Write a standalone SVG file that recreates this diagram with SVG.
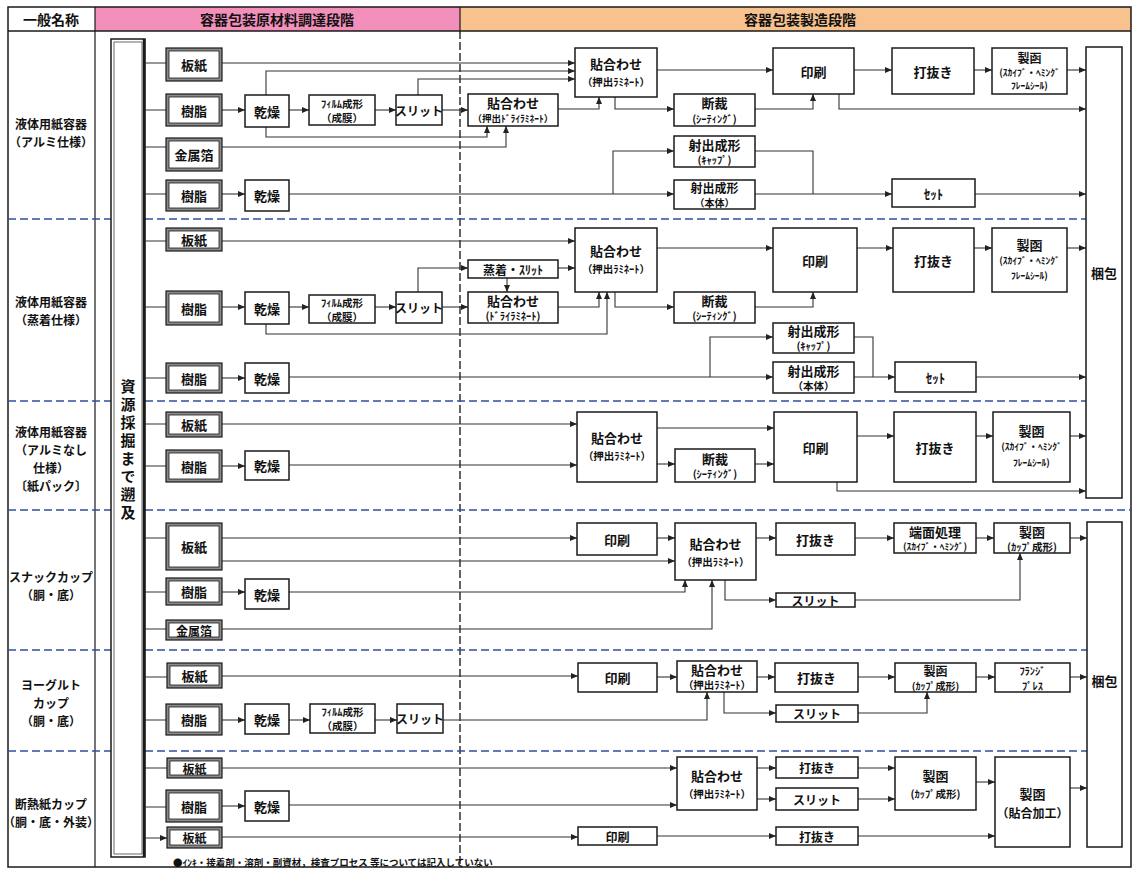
<svg xmlns="http://www.w3.org/2000/svg" width="1136" height="871" viewBox="0 0 1136 871">
<defs>
<marker id="a" markerUnits="userSpaceOnUse" markerWidth="7" markerHeight="6" refX="7" refY="3" orient="auto"><path d="M0,0 L7,3 L0,6 z" fill="#222"/></marker>
<style>
.box{fill:#fff;stroke:#1a1a1a;stroke-width:1.5}
.mo{fill:#8a8a8a;stroke:#1a1a1a;stroke-width:1.2}
.mi{fill:#fff;stroke:#1a1a1a;stroke-width:0.8}
.t{font-family:"Noto Sans CJK JP","Noto Sans",sans-serif;font-weight:700;font-size:13px;text-anchor:middle;dominant-baseline:central;fill:#111}
.s{font-size:10.5px}
.xs{font-size:9.5px}
.h{font-size:14px}
.l{font-size:12px}
.c{fill:none;stroke:#333;stroke-width:1.1;marker-end:url(#a)}
.n{marker-end:none}
.sep{stroke:#2f4f9f;stroke-width:1.6;stroke-dasharray:8 4;fill:none}
</style>
</defs>
<rect x="0" y="0" width="1136" height="871" fill="#fff"/>
<g id="frame">
<rect x="95" y="7" width="365" height="24" fill="#f28fba"/>
<rect x="460" y="7" width="671" height="24" fill="#f8c28e"/>
<rect x="8" y="7" width="1123" height="860" fill="none" stroke="#1a1a1a" stroke-width="1.5"/>
<line x1="8" y1="31" x2="1131" y2="31" stroke="#1a1a1a" stroke-width="1.5"/>
<line x1="95" y1="7" x2="95" y2="867" stroke="#1a1a1a" stroke-width="1.2"/>
<line x1="460" y1="7" x2="460" y2="31" stroke="#1a1a1a" stroke-width="1.2"/>
<line x1="460" y1="31" x2="460" y2="867" stroke="#111" stroke-width="1.3" stroke-dasharray="8 3"/>
<text class="t h" x="51" y="19">一般名称</text>
<text class="t h" x="277" y="19">容器包装原材料調達段階</text>
<text class="t h" x="800" y="19">容器包装製造段階</text>
</g>
<g id="separators">
<path class="sep" d="M8,219 H111 M145,219 H1086"/>
<path class="sep" d="M8,401 H111 M145,401 H1086"/>
<path class="sep" d="M8,510 H111 M145,510 H1131"/>
<path class="sep" d="M8,650 H111 M145,650 H1087"/>
<path class="sep" d="M8,751 H111 M145,751 H1087"/>
</g>
<g id="row-labels">
<text class="t l" x="51" y="123">液体用紙容器</text>
<text class="t l" x="51" y="141">（アルミ仕様）</text>
<text class="t l" x="51" y="301">液体用紙容器</text>
<text class="t l" x="51" y="319">（蒸着仕様）</text>
<text class="t l" x="51" y="431">液体用紙容器</text>
<text class="t l" x="51" y="449">（アルミなし</text>
<text class="t l" x="51" y="467">仕様）</text>
<text class="t l" x="51" y="485">〔紙パック〕</text>
<text class="t l" x="51" y="576">スナックカップ</text>
<text class="t l" x="51" y="594">（胴・底）</text>
<text class="t l" x="51" y="684">ヨーグルト</text>
<text class="t l" x="51" y="702">カップ</text>
<text class="t l" x="51" y="720">（胴・底）</text>
<text class="t l" x="51" y="803">断熱紙カップ</text>
<text class="t l" x="51" y="821">（胴・底・外装）</text>
</g>
<g id="source">
<rect x="111" y="39" width="34" height="818" fill="#fff" stroke="#1a1a1a" stroke-width="1.5"/>
<rect x="114" y="42" width="28" height="812" fill="none" stroke="#444" stroke-width="0.8"/>
<line x1="144" y1="39" x2="144" y2="857" stroke="#1a1a1a" stroke-width="2.5"/>
<text class="t" x="128" y="451" style="font-size:15px;writing-mode:vertical-rl;letter-spacing:3px">資源採掘まで遡及</text>
</g>
<g id="connectors">
<path class="c" d="M145,63 H166 M145,110 H166 M145,147 H166 M145,194 H166 M145,241 H166 M145,307 H166 M145,378 H166 M145,424 H166 M145,466 H166 M145,538 H166 M145,592 H166 M145,629 H166 M145,677 H167 M145,720 H166 M145,768 H167 M145,807 H166 M145,838 H167"/>
<path class="c" d="M222,63 H575"/>
<path class="c" d="M266,95 V71 H575"/>
<path class="c" d="M418,95 V79 H575"/>
<path class="c" d="M222,110 H245"/>
<path class="c" d="M289,110 H309"/>
<path class="c" d="M375,110 H396"/>
<path class="c" d="M442,110 H468"/>
<path class="c" d="M266,127 V137 H487 V126"/>
<path class="c" d="M222,147 H506 V126"/>
<path class="c" d="M558,109 H599 V97"/>
<path class="c" d="M615,97 V109 H674"/>
<path class="c" d="M755,109 H813 V94"/>
<path class="c" d="M657,70 H773"/>
<path class="c" d="M854,70 H892"/>
<path class="c" d="M974,70 H992"/>
<path class="c" d="M1067,70 H1086"/>
<path class="c" d="M839,94 V109 H1086"/>
<path class="c" d="M222,194 H245"/>
<path class="c" d="M289,194 H674"/>
<path class="c" d="M613,194 V151 H674"/>
<path class="c n" d="M755,151 H813 V194"/>
<path class="c" d="M755,194 H892"/>
<path class="c" d="M975,194 H1086"/>
<path class="c" d="M222,241 H575"/>
<path class="c" d="M222,307 H245"/>
<path class="c" d="M289,307 H309"/>
<path class="c" d="M375,307 H396"/>
<path class="c" d="M418,292 V268 H468"/>
<path class="c" d="M442,307 H468"/>
<path class="c" d="M558,268 H575"/>
<path class="c" d="M507,278 V292"/>
<path class="c" d="M558,307 H599 V292"/>
<path class="c" d="M266,324 V334 H607 V292"/>
<path class="c" d="M615,292 V307 H674"/>
<path class="c" d="M755,307 H813 V292"/>
<path class="c" d="M657,248 H773"/>
<path class="c" d="M857,248 H893"/>
<path class="c" d="M974,248 H992"/>
<path class="c" d="M1067,248 H1086"/>
<path class="c" d="M222,378 H245"/>
<path class="c" d="M289,377 H773"/>
<path class="c" d="M710,377 V337 H773"/>
<path class="c n" d="M854,337 H873 V377"/>
<path class="c" d="M854,377 H895"/>
<path class="c" d="M976,377 H1086"/>
<path class="c" d="M222,424 H577"/>
<path class="c" d="M222,466 H245"/>
<path class="c" d="M289,465 H577"/>
<path class="c" d="M657,428 H774"/>
<path class="c" d="M657,464 H675"/>
<path class="c" d="M755,464 H774"/>
<path class="c" d="M857,436 H894"/>
<path class="c" d="M976,436 H993"/>
<path class="c" d="M1070,436 H1086"/>
<path class="c" d="M837,482 V491 H1086"/>
<path class="c" d="M222,538 H577"/>
<path class="c" d="M222,561 H675"/>
<path class="c" d="M222,592 H245"/>
<path class="c" d="M289,592 H685 V580"/>
<path class="c" d="M222,629 H712 V580"/>
<path class="c" d="M657,538 H675"/>
<path class="c" d="M756,538 H776"/>
<path class="c" d="M855,538 H894"/>
<path class="c" d="M976,538 H994"/>
<path class="c" d="M1070,538 H1087"/>
<path class="c" d="M725,580 V600 H776"/>
<path class="c" d="M855,600 H1020 V553"/>
<path class="c" d="M222,676 H578"/>
<path class="c" d="M222,720 H245"/>
<path class="c" d="M289,720 H310"/>
<path class="c" d="M375,720 H397"/>
<path class="c" d="M443,720 H707 V692"/>
<path class="c" d="M657,677 H677"/>
<path class="c" d="M757,677 H775"/>
<path class="c" d="M858,677 H895"/>
<path class="c" d="M976,677 H995"/>
<path class="c" d="M1070,677 H1087"/>
<path class="c" d="M724,692 V713 H776"/>
<path class="c" d="M858,713 H927 V692"/>
<path class="c" d="M222,768 H677"/>
<path class="c" d="M222,806 H245"/>
<path class="c" d="M289,805 H677"/>
<path class="c" d="M757,768 H776"/>
<path class="c" d="M757,799 H776"/>
<path class="c" d="M858,768 H895"/>
<path class="c" d="M858,799 H895"/>
<path class="c" d="M976,782 H995"/>
<path class="c" d="M222,837 H578"/>
<path class="c" d="M657,836 H776"/>
<path class="c" d="M858,836 H995"/>
<path class="c" d="M1070,788 H1087"/>
</g>
<g id="r1-itagami"><rect class="mo" x="166" y="48" width="56" height="33"/><rect class="mi" x="169" y="51" width="50" height="27"/><text class="t" x="194" y="64.5">板紙</text></g>
<g id="r1-jushi1"><rect class="mo" x="166" y="94" width="56" height="32"/><rect class="mi" x="169" y="97" width="50" height="26"/><text class="t" x="194" y="110">樹脂</text></g>
<g id="r1-kinzoku"><rect class="mo" x="166" y="138" width="56" height="33"/><rect class="mi" x="169" y="141" width="50" height="27"/><text class="t" x="194" y="154.5">金属箔</text></g>
<g id="r1-jushi2"><rect class="mo" x="166" y="180" width="56" height="31"/><rect class="mi" x="169" y="183" width="50" height="25"/><text class="t" x="194" y="195.5">樹脂</text></g>
<g id="r1-kanso1"><rect class="box" x="245" y="95" width="44" height="32"/><text class="t" x="267" y="111">乾燥</text></g>
<g id="r1-film"><rect class="box" x="309" y="95" width="66" height="30"/><text class="t s" x="342" y="103.5">ﾌｨﾙﾑ成形</text><text class="t s" x="342" y="117.5">（成膜）</text></g>
<g id="r1-slit"><rect class="box" x="396" y="95" width="46" height="30"/><text class="t" x="419" y="110" style="font-size:12px">スリット</text></g>
<g id="r1-kanso2"><rect class="box" x="245" y="180" width="44" height="31"/><text class="t" x="267" y="195.5">乾燥</text></g>
<g id="r1-dry"><rect class="box" x="468" y="94" width="90" height="32"/><text class="t" x="513" y="102.5">貼合わせ</text><text class="t xs" x="513" y="118">（押出ﾄﾞﾗｲﾗﾐﾈｰﾄ）</text></g>
<g id="r1-lam"><rect class="box" x="575" y="48" width="82" height="49"/><text class="t" x="616" y="63">貼合わせ</text><text class="t s" x="616" y="81">（押出ﾗﾐﾈｰﾄ）</text></g>
<g id="r1-cut"><rect class="box" x="674" y="94" width="81" height="32"/><text class="t" x="714.5" y="102.5">断裁</text><text class="t s" x="714.5" y="118">(ｼｰﾃｨﾝｸﾞ)</text></g>
<g id="r1-print"><rect class="box" x="773" y="48" width="81" height="46"/><text class="t" x="813.5" y="71">印刷</text></g>
<g id="r1-punch"><rect class="box" x="892" y="48" width="82" height="46"/><text class="t" x="933" y="71">打抜き</text></g>
<g id="r1-seikan"><rect class="box" x="992" y="48" width="75" height="46"/><text class="t" x="1029.5" y="57" style="font-size:12px">製函</text><text class="t xs" x="1029.5" y="72">(ｽｶｲﾌﾞ・ﾍﾐﾝｸﾞ</text><text class="t xs" x="1029.5" y="85">ﾌﾚｰﾑｼｰﾙ)</text></g>
<g id="r1-cap"><rect class="box" x="674" y="136" width="81" height="31"/><text class="t" x="714.5" y="144.5">射出成形</text><text class="t s" x="714.5" y="159.5">(ｷｬｯﾌﾟ)</text></g>
<g id="r1-body"><rect class="box" x="674" y="180" width="81" height="29"/><text class="t" x="714.5" y="187" style="font-size:12px">射出成形</text><text class="t" x="714.5" y="202.5" style="font-size:10px">（本体）</text></g>
<g id="r1-set"><rect class="box" x="892" y="179" width="83" height="28"/><text class="t" x="933.5" y="193">ｾｯﾄ</text></g>
<g id="r2-itagami"><rect class="mo" x="166" y="228" width="56" height="23"/><rect class="mi" x="169" y="231" width="50" height="17"/><text class="t" x="194" y="239.5">板紙</text></g>
<g id="r2-jushi1"><rect class="mo" x="166" y="291" width="56" height="34"/><rect class="mi" x="169" y="294" width="50" height="28"/><text class="t" x="194" y="308">樹脂</text></g>
<g id="r2-jushi2"><rect class="mo" x="166" y="363" width="56" height="30"/><rect class="mi" x="169" y="366" width="50" height="24"/><text class="t" x="194" y="378">樹脂</text></g>
<g id="r2-kanso1"><rect class="box" x="245" y="292" width="44" height="32"/><text class="t" x="267" y="308">乾燥</text></g>
<g id="r2-film"><rect class="box" x="309" y="295" width="66" height="28"/><text class="t s" x="342" y="302.5">ﾌｨﾙﾑ成形</text><text class="t s" x="342" y="316">（成膜）</text></g>
<g id="r2-slit"><rect class="box" x="396" y="292" width="46" height="31"/><text class="t" x="419" y="307.5" style="font-size:12px">スリット</text></g>
<g id="r2-kanso2"><rect class="box" x="245" y="363" width="44" height="30"/><text class="t" x="267" y="378">乾燥</text></g>
<g id="r2-joch"><rect class="box" x="468" y="260" width="90" height="18"/><text class="t" x="513" y="269" style="font-size:12px">蒸着・ｽﾘｯﾄ</text></g>
<g id="r2-dry"><rect class="box" x="468" y="292" width="90" height="31"/><text class="t" x="513" y="300.5">貼合わせ</text><text class="t s" x="513" y="315.5">(ﾄﾞﾗｲﾗﾐﾈｰﾄ)</text></g>
<g id="r2-lam"><rect class="box" x="575" y="228" width="82" height="64"/><text class="t" x="616" y="250">貼合わせ</text><text class="t s" x="616" y="268">（押出ﾗﾐﾈｰﾄ）</text></g>
<g id="r2-cut"><rect class="box" x="674" y="292" width="81" height="31"/><text class="t" x="714.5" y="300.5">断裁</text><text class="t s" x="714.5" y="315.5">(ｼｰﾃｨﾝｸﾞ)</text></g>
<g id="r2-print"><rect class="box" x="773" y="228" width="84" height="64"/><text class="t" x="815" y="260">印刷</text></g>
<g id="r2-punch"><rect class="box" x="893" y="228" width="81" height="64"/><text class="t" x="933.5" y="260">打抜き</text></g>
<g id="r2-seikan"><rect class="box" x="992" y="228" width="75" height="64"/><text class="t" x="1029.5" y="244">製函</text><text class="t xs" x="1029.5" y="260">(ｽｶｲﾌﾞ・ﾍﾐﾝｸﾞ</text><text class="t xs" x="1029.5" y="275">ﾌﾚｰﾑｼｰﾙ)</text></g>
<g id="r2-cap"><rect class="box" x="773" y="323" width="81" height="30"/><text class="t" x="813.5" y="330.5">射出成形</text><text class="t s" x="813.5" y="345.5">(ｷｬｯﾌﾟ)</text></g>
<g id="r2-body"><rect class="box" x="773" y="362" width="81" height="31"/><text class="t" x="813.5" y="370">射出成形</text><text class="t s" x="813.5" y="385">（本体）</text></g>
<g id="r2-set"><rect class="box" x="895" y="362" width="81" height="30"/><text class="t" x="935.5" y="377">ｾｯﾄ</text></g>
<g id="r3-itagami"><rect class="mo" x="166" y="412" width="56" height="25"/><rect class="mi" x="169" y="415" width="50" height="19"/><text class="t" x="194" y="424.5">板紙</text></g>
<g id="r3-jushi"><rect class="mo" x="166" y="450" width="56" height="32"/><rect class="mi" x="169" y="453" width="50" height="26"/><text class="t" x="194" y="466">樹脂</text></g>
<g id="r3-kanso"><rect class="box" x="245" y="451" width="44" height="29"/><text class="t" x="267" y="465.5">乾燥</text></g>
<g id="r3-lam"><rect class="box" x="577" y="412" width="80" height="70"/><text class="t" x="617" y="437">貼合わせ</text><text class="t s" x="617" y="455">（押出ﾗﾐﾈｰﾄ）</text></g>
<g id="r3-cut"><rect class="box" x="675" y="449" width="80" height="33"/><text class="t" x="715" y="458">断裁</text><text class="t s" x="715" y="473.5">(ｼｰﾃｨﾝｸﾞ)</text></g>
<g id="r3-print"><rect class="box" x="774" y="412" width="83" height="70"/><text class="t" x="815.5" y="447">印刷</text></g>
<g id="r3-punch"><rect class="box" x="894" y="412" width="82" height="70"/><text class="t" x="935" y="447">打抜き</text></g>
<g id="r3-seikan"><rect class="box" x="993" y="412" width="77" height="70"/><text class="t" x="1031.5" y="430">製函</text><text class="t xs" x="1031.5" y="446">(ｽｶｲﾌﾞ・ﾍﾐﾝｸﾞ</text><text class="t xs" x="1031.5" y="462">ﾌﾚｰﾑｼｰﾙ)</text></g>
<g id="konpo1"><rect class="box" x="1086" y="47" width="36" height="451"/><text class="t" x="1104" y="272">梱包</text></g>
<g id="r4-itagami"><rect class="mo" x="166" y="523" width="56" height="47"/><rect class="mi" x="169" y="526" width="50" height="41"/><text class="t" x="194" y="546.5">板紙</text></g>
<g id="r4-jushi"><rect class="mo" x="166" y="578" width="56" height="27"/><rect class="mi" x="169" y="581" width="50" height="21"/><text class="t" x="194" y="591.5">樹脂</text></g>
<g id="r4-kinzoku"><rect class="mo" x="166" y="620" width="56" height="20"/><rect class="mi" x="169" y="623" width="50" height="14"/><text class="t" x="194" y="630" style="font-size:12px">金属箔</text></g>
<g id="r4-kanso"><rect class="box" x="245" y="579" width="44" height="30"/><text class="t" x="267" y="594">乾燥</text></g>
<g id="r4-print"><rect class="box" x="577" y="523" width="80" height="32"/><text class="t" x="617" y="539">印刷</text></g>
<g id="r4-lam"><rect class="box" x="675" y="523" width="81" height="57"/><text class="t" x="715.5" y="543">貼合わせ</text><text class="t s" x="715.5" y="561">（押出ﾗﾐﾈｰﾄ）</text></g>
<g id="r4-punch"><rect class="box" x="776" y="523" width="79" height="32"/><text class="t" x="815.5" y="539">打抜き</text></g>
<g id="r4-tanmen"><rect class="box" x="894" y="523" width="82" height="30"/><text class="t" x="935" y="531">端面処理</text><text class="t xs" x="935" y="546">(ｽｶｲﾌﾞ・ﾍﾐﾝｸﾞ)</text></g>
<g id="r4-seikan"><rect class="box" x="994" y="523" width="76" height="30"/><text class="t" x="1032" y="531">製函</text><text class="t s" x="1032" y="546">(ｶｯﾌﾟ成形)</text></g>
<g id="r4-slit"><rect class="box" x="776" y="593" width="79" height="14"/><text class="t" x="815.5" y="600" style="font-size:12px">スリット</text></g>
<g id="r5-itagami"><rect class="mo" x="167" y="663" width="55" height="25"/><rect class="mi" x="170" y="666" width="49" height="19"/><text class="t" x="194.5" y="675.5">板紙</text></g>
<g id="r5-jushi"><rect class="mo" x="166" y="704" width="56" height="31"/><rect class="mi" x="169" y="707" width="50" height="25"/><text class="t" x="194" y="719.5">樹脂</text></g>
<g id="r5-kanso"><rect class="box" x="245" y="704" width="44" height="30"/><text class="t" x="267" y="719">乾燥</text></g>
<g id="r5-film"><rect class="box" x="310" y="704" width="65" height="29"/><text class="t s" x="342.5" y="711.5">ﾌｨﾙﾑ成形</text><text class="t s" x="342.5" y="725.5">（成膜）</text></g>
<g id="r5-slit"><rect class="box" x="397" y="704" width="46" height="29"/><text class="t" x="420" y="718.5" style="font-size:12px">スリット</text></g>
<g id="r5-print"><rect class="box" x="578" y="663" width="79" height="29"/><text class="t" x="617.5" y="677.5">印刷</text></g>
<g id="r5-lam"><rect class="box" x="677" y="661" width="80" height="31"/><text class="t" x="717" y="669.5">貼合わせ</text><text class="t s" x="717" y="684.5">（押出ﾗﾐﾈｰﾄ）</text></g>
<g id="r5-punch"><rect class="box" x="775" y="663" width="83" height="29"/><text class="t" x="816.5" y="677.5">打抜き</text></g>
<g id="r5-seikan"><rect class="box" x="895" y="663" width="81" height="29"/><text class="t" x="935.5" y="670" style="font-size:12px">製函</text><text class="t" x="935.5" y="685.5" style="font-size:10px">(ｶｯﾌﾟ成形)</text></g>
<g id="r5-flange"><rect class="box" x="995" y="663" width="75" height="29"/><text class="t s" x="1032.5" y="670.5">ﾌﾗﾝｼﾞ</text><text class="t s" x="1032.5" y="685">ﾌﾟﾚｽ</text></g>
<g id="r5-slit2"><rect class="box" x="776" y="705" width="82" height="17"/><text class="t" x="817" y="713.5" style="font-size:12px">スリット</text></g>
<g id="r6-itagami1"><rect class="mo" x="167" y="758" width="55" height="20"/><rect class="mi" x="170" y="761" width="49" height="14"/><text class="t" x="194.5" y="768" style="font-size:12px">板紙</text></g>
<g id="r6-jushi"><rect class="mo" x="166" y="790" width="56" height="32"/><rect class="mi" x="169" y="793" width="50" height="26"/><text class="t" x="194" y="806">樹脂</text></g>
<g id="r6-itagami2"><rect class="mo" x="167" y="827" width="55" height="21"/><rect class="mi" x="170" y="830" width="49" height="15"/><text class="t" x="194.5" y="837.5" style="font-size:12px">板紙</text></g>
<g id="r6-kanso"><rect class="box" x="245" y="791" width="44" height="30"/><text class="t" x="267" y="806">乾燥</text></g>
<g id="r6-lam"><rect class="box" x="677" y="757" width="80" height="53"/><text class="t" x="717" y="775">貼合わせ</text><text class="t s" x="717" y="793">（押出ﾗﾐﾈｰﾄ）</text></g>
<g id="r6-punch1"><rect class="box" x="776" y="757" width="82" height="21"/><text class="t" x="817" y="767.5" style="font-size:12px">打抜き</text></g>
<g id="r6-slit"><rect class="box" x="776" y="788" width="82" height="22"/><text class="t" x="817" y="799" style="font-size:12px">スリット</text></g>
<g id="r6-seikan1"><rect class="box" x="895" y="757" width="81" height="53"/><text class="t" x="935.5" y="775">製函</text><text class="t s" x="935.5" y="793">(ｶｯﾌﾟ成形)</text></g>
<g id="r6-seikan2"><rect class="box" x="995" y="757" width="75" height="90"/><text class="t" x="1032.5" y="793">製函</text><text class="t" x="1032.5" y="812" style="font-size:12px">（貼合加工）</text></g>
<g id="r6-print"><rect class="box" x="578" y="827" width="79" height="18"/><text class="t" x="617.5" y="836" style="font-size:12px">印刷</text></g>
<g id="r6-punch2"><rect class="box" x="776" y="827" width="82" height="18"/><text class="t" x="817" y="836" style="font-size:12px">打抜き</text></g>
<g id="konpo2"><rect class="box" x="1087" y="522" width="35" height="325"/><text class="t" x="1104.5" y="680">梱包</text></g>
<g id="footnote"><text class="t" x="173" y="862" style="font-size:9.5px;text-anchor:start">●ｲﾝｷ・接着剤・溶剤・副資材，検査プロセス 等については記入していない</text></g>
</svg>
